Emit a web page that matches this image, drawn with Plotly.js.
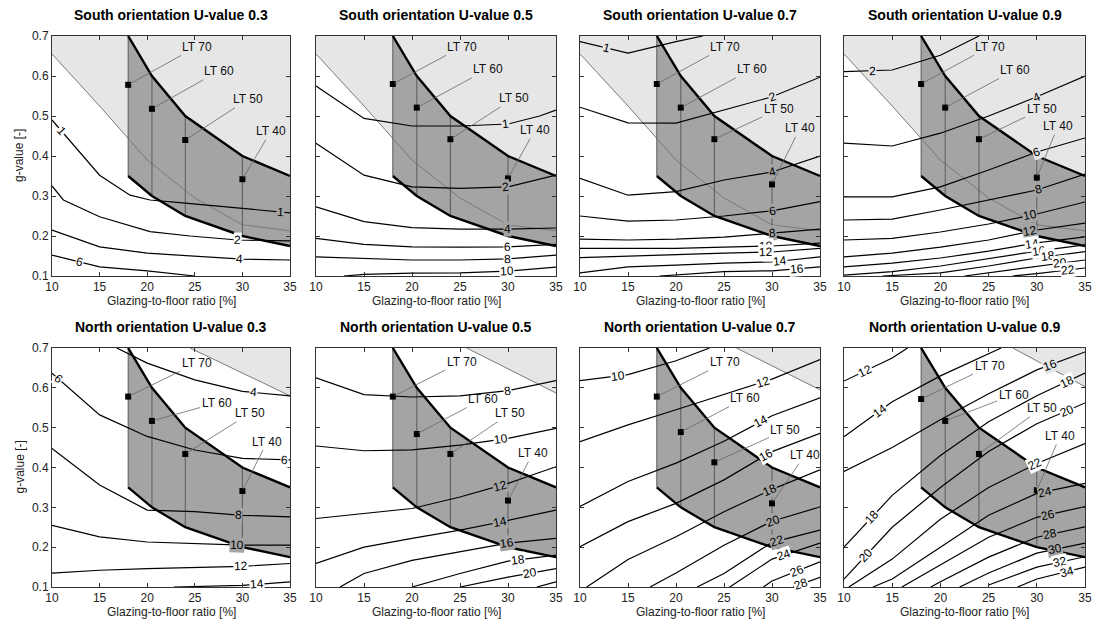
<!DOCTYPE html>
<html><head><meta charset="utf-8">
<script src="https://cdn.plot.ly/plotly-3.0.1.min.js"></script>
<style>html,body{margin:0;padding:0;background:#fff}#chart{width:1093px;height:623px}</style>
</head><body><div id="chart"></div>
<script>
// ---------------- DATA ----------------
const panelTitles = [
  'South orientation U-value 0.3','South orientation U-value 0.5','South orientation U-value 0.7','South orientation U-value 0.9',
  'North orientation U-value 0.3','North orientation U-value 0.5','North orientation U-value 0.7','North orientation U-value 0.9'];
const xTicks = [10,15,20,25,30,35];
const yTicks = [0.1,0.2,0.3,0.4,0.5,0.6,0.7];
const xTitle = 'Glazing-to-floor ratio [%]';
const yTitle = 'g-value [-]';

// feasible (dark) region: glazing-to-floor ratio and g-value bounds
const feasibleX = [18, 20.5, 24, 30, 35];
const feasibleUpper = [0.7, 0.6, 0.5, 0.4, 0.35];
const feasibleLower = [0.35, 0.3, 0.25, 0.2, 0.175];

// light-transmittance levels (markers)
const ltNames = ['LT 70','LT 60','LT 50','LT 40'];
const ltGFR = [18, 20.5, 24, 30];
const ltG = [
  [0.578,0.518,0.44,0.342],[0.58,0.521,0.442,0.344],[0.58,0.521,0.442,0.329],[0.58,0.521,0.442,0.346],
  [0.578,0.517,0.434,0.341],[0.578,0.484,0.434,0.317],[0.578,0.489,0.413,0.31],[0.572,0.517,0.434,0.343]];

// light-grey limit (south panels share one curve; north panels: straight line)
const southLimitX = [10,15,20,25,30,35];
const southLimitY = [0.655,0.525,0.39,0.295,0.228,0.213];
const northLimitX = [[24.5,35],[25.7,35],[26.3,35],[27.5,35]];
const northLimitY = [[0.7,0.58],[0.7,0.587],[0.7,0.595],[0.7,0.603]];

// contour lines: [level, gfr values, g values]
const G6 = [10,15,20,25,30,35];
const contS03 = [
  [1,[10,15,18.2,20.3,24,30.8,35],[0.49,0.352,0.302,0.29,0.282,0.267,0.258]],
  [2,[10,11.2,15,20.3,24.5,29.5,35],[0.325,0.29,0.248,0.211,0.2,0.19,0.188]],
  [4,G6,[0.215,0.173,0.157,0.149,0.142,0.14]],
  [6,[10,15,20,25],[0.152,0.123,0.113,0.1]]];
const contS05 = [
  [1,[10,15,20,25,30,33.3,35],[0.575,0.494,0.475,0.475,0.48,0.5,0.515]],
  [2,G6,[0.432,0.352,0.323,0.319,0.323,0.352]],
  [4,G6,[0.273,0.236,0.221,0.217,0.217,0.22]],
  [6,G6,[0.194,0.179,0.173,0.172,0.173,0.179]],
  [8,G6,[0.148,0.144,0.14,0.14,0.143,0.152]],
  [10,[12.9,15,20,25,30,35],[0.1,0.104,0.107,0.108,0.112,0.122]]];
const contS07 = [
  [1,[10,15,20,22.8],[0.686,0.657,0.686,0.7]],
  [2,G6,[0.522,0.483,0.482,0.515,0.548,0.597]],
  [4,G6,[0.344,0.302,0.311,0.34,0.36,0.4]],
  [6,G6,[0.25,0.237,0.24,0.25,0.263,0.286]],
  [8,G6,[0.192,0.19,0.192,0.197,0.207,0.217]],
  [10,G6,[0.169,0.169,0.169,0.172,0.175,0.182]],
  [12,G6,[0.146,0.15,0.153,0.157,0.16,0.169]],
  [14,G6,[0.108,0.123,0.127,0.132,0.135,0.148]],
  [16,[18.3,25,30,35],[0.1,0.111,0.113,0.123]]];
const contS09 = [
  [2,[10,15,20,24],[0.611,0.615,0.652,0.7]],
  [4,G6,[0.432,0.425,0.457,0.5,0.548,0.6]],
  [6,G6,[0.298,0.298,0.323,0.365,0.41,0.445]],
  [8,G6,[0.24,0.242,0.265,0.29,0.315,0.355]],
  [10,G6,[0.19,0.194,0.21,0.23,0.255,0.285]],
  [12,G6,[0.148,0.157,0.172,0.19,0.215,0.232]],
  [14,G6,[0.123,0.132,0.145,0.162,0.183,0.198]],
  [16,G6,[0.102,0.111,0.125,0.143,0.162,0.178]],
  [18,[14,20,25,30,35],[0.1,0.108,0.125,0.145,0.161]],
  [20,[22.5,25,30,35],[0.1,0.108,0.125,0.14]],
  [22,[27.5,30,35],[0.1,0.106,0.12]]];
const contN03 = [
  [4,[16.8,20,25,30,35],[0.7,0.662,0.62,0.591,0.58]],
  [6,G6,[0.637,0.532,0.478,0.444,0.423,0.419]],
  [8,G6,[0.448,0.356,0.293,0.289,0.28,0.276]],
  [10,G6,[0.255,0.226,0.213,0.209,0.205,0.205]],
  [12,G6,[0.135,0.142,0.146,0.149,0.152,0.159]],
  [14,[22.8,30,35],[0.1,0.104,0.113]]];
const contN05 = [
  [8,G6,[0.625,0.583,0.577,0.58,0.593,0.618]],
  [10,G6,[0.454,0.442,0.444,0.456,0.473,0.498]],
  [12,G6,[0.272,0.285,0.297,0.326,0.36,0.402]],
  [14,G6,[0.159,0.2,0.222,0.243,0.267,0.293]],
  [16,[12.5,15,20,25,30,35],[0.1,0.134,0.167,0.188,0.21,0.222]],
  [18,[20,25,30,35],[0.1,0.134,0.165,0.18]],
  [20,[25,30,35],[0.1,0.125,0.146]],
  [22,[33,35],[0.1,0.113]]];
const contN07 = [
  [10,[10,15,20,23.5],[0.618,0.633,0.668,0.7]],
  [12,G6,[0.465,0.507,0.545,0.583,0.622,0.671]],
  [14,G6,[0.302,0.365,0.411,0.466,0.53,0.575]],
  [16,G6,[0.201,0.264,0.31,0.369,0.44,0.486]],
  [18,[10.7,15,20,25,30,35],[0.1,0.169,0.226,0.289,0.345,0.394]],
  [20,[17.3,20,25,30,35],[0.1,0.135,0.205,0.265,0.301]],
  [22,[22.2,25,30,35],[0.1,0.134,0.212,0.243]],
  [24,[25.6,30,35],[0.1,0.17,0.21]],
  [26,[29.1,30,35],[0.1,0.115,0.163]],
  [28,[32.2,35],[0.1,0.124]]];
const contN09 = [
  [12,[10,15,16.6],[0.617,0.675,0.7]],
  [14,[10,15,20,25,26.3],[0.477,0.565,0.63,0.685,0.7]],
  [16,G6,[0.39,0.45,0.52,0.585,0.645,0.69]],
  [18,G6,[0.2,0.33,0.43,0.515,0.58,0.637]],
  [20,G6,[0.12,0.25,0.35,0.44,0.51,0.562]],
  [22,[10.5,15,20,25,30,35],[0.1,0.17,0.27,0.35,0.41,0.46]],
  [24,[13,15,20,25,30,35],[0.1,0.12,0.2,0.28,0.335,0.36]],
  [26,[16,20,25,30,35],[0.1,0.155,0.225,0.275,0.302]],
  [28,[19,20,25,30,35],[0.1,0.113,0.175,0.225,0.251]],
  [30,[22,25,30,35],[0.1,0.135,0.185,0.21]],
  [32,[25,30,35],[0.105,0.15,0.176]],
  [34,[28,30,35],[0.1,0.12,0.15]]];
const contours = [contS03,contS05,contS07,contS09,contN03,contN05,contN07,contN09];

// ---------------- PLACEMENT (labels) ----------------
const labelAt = [
  [[1,11],[1,34],[2,29.5],[4,29.7],[6,12.9]],
  [[1,29.7],[2,29.7],[4,29.9],[6,29.9],[8,29.9],[10,29.9]],
  [[1,12.8],[2,30],[4,30],[6,30],[8,30],[10,29.4],[12,29.4],[14,30.8],[16,32.6]],
  [[2,13],[4,30],[6,30],[8,30.2],[10,29.3],[12,29.3],[14,29.5],[16,30.2],[18,31.2],[20,32.4],[22,33.2]],
  [[4,31.2],[6,10.7],[6,34.4],[8,29.6],[10,29.4],[12,29.8],[14,31.5]],
  [[8,29.9],[10,29.3],[12,29.2],[14,29.2],[16,29.9],[18,31],[20,32.3]],
  [[10,14],[12,29.1],[14,28.9],[16,29.4],[18,29.8],[20,30.1],[22,30.5],[24,31.2],[26,32.6],[28,33]],
  [[12,12.2],[14,13.7],[16,31.4],[18,33.1],[18,12.9],[20,33.1],[20,12.3],[22,29.8],[24,30.9],[26,31.2],[28,31.4],[30,31.9],[32,32.4],[34,33.1]]];
const ltTextAt = [
  [[25.2,0.673],[27.5,0.612],[30.6,0.542],[33,0.462]],
  [[25.2,0.673],[27.9,0.617],[30.6,0.544],[32.8,0.465]],
  [[25.1,0.673],[27.9,0.617],[30.7,0.517],[32.9,0.469]],
  [[25.1,0.673],[27.7,0.615],[30.5,0.517],[32.2,0.475]],
  [[25.2,0.662],[27.3,0.562],[30.8,0.536],[32.6,0.465]],
  [[25.2,0.666],[27.4,0.572],[30.2,0.536],[32.6,0.436]],
  [[25.1,0.664],[27.2,0.574],[31.4,0.494],[33.4,0.431]],
  [[25.1,0.654],[27.6,0.583],[30.5,0.549],[32.4,0.479]]];

// ---------------- RENDER ----------------
const W = 1093, H = 623;
const colPx = [[52,290],[316,556],[580,820],[844,1085]];
const rowPx = [[36,276],[348,587]];
const DARK = '#a4a4a4', LIGHT = '#e6e6e6';
const FONT = 'Liberation Sans, Arial, Helvetica, sans-serif';

function interp(xs, ys, x){
  if (x <= xs[0]) return ys[0];
  for (let i = 1; i < xs.length; i++) {
    if (x <= xs[i]) { const t = (x - xs[i-1])/(xs[i]-xs[i-1]); return ys[i-1] + t*(ys[i]-ys[i-1]); }
  }
  return ys[ys.length-1];
}

const traces = [], annotations = [], layout = {
  width: W, height: H, margin:{l:0,r:0,t:0,b:0}, showlegend:false,
  paper_bgcolor:'#fff', plot_bgcolor:'#fff', font:{family:FONT, size:12, color:'#222'}
};

for (let p = 0; p < 8; p++) {
  const col = p % 4, row = Math.floor(p/4);
  const n = p === 0 ? '' : String(p+1);
  const xa = 'x'+n, ya = 'y'+n;
  const [c0,c1] = colPx[col], [r0,r1] = rowPx[row];
  const pxX = (c1-c0)/25, pxY = (r1-r0)/0.6;
  layout['xaxis'+n] = {domain:[c0/W, c1/W], range:[10,35], anchor:ya, tickvals:xTicks, ticks:'inside', ticklen:4,
    tickcolor:'#333', showline:true, mirror:'ticks', linecolor:'#333', linewidth:1, showgrid:false, zeroline:false,
    tickfont:{size:12, color:'#222'}, fixedrange:true};
  layout['yaxis'+n] = {domain:[1-r1/H, 1-r0/H], range:[0.1,0.7], anchor:xa, tickvals:yTicks, ticktext:yTicks.map(v=>v.toFixed(1)),
    ticks:'inside', ticklen:4, tickcolor:'#333', showline:true, mirror:'ticks', linecolor:'#333', linewidth:1, showgrid:false,
    zeroline:false, showticklabels: col===0, tickfont:{size:12, color:'#222'}, fixedrange:true};

  const south = row === 0;
  let limX, limY;
  if (south) { limX = southLimitX; limY = southLimitY; }
  else { limX = northLimitX[col]; limY = northLimitY[col]; }
  const lx = limX.concat([35, limX[0]]), ly = limY.concat([0.7, 0.7]);
  traces.push({x:lx, y:ly, xaxis:xa, yaxis:ya, mode:'lines', fill:'toself', fillcolor:LIGHT, line:{width:0}, hoverinfo:'skip'});
  const fx = feasibleX.concat(feasibleX.slice().reverse(), [feasibleX[0]]);
  const fy = feasibleUpper.concat(feasibleLower.slice().reverse(), [feasibleUpper[0]]);
  traces.push({x:fx, y:fy, xaxis:xa, yaxis:ya, mode:'lines', fill:'toself', fillcolor:DARK, line:{width:0}, hoverinfo:'skip'});
  traces.push({x:limX, y:limY, xaxis:xa, yaxis:ya, mode:'lines', line:{color:'#7a7a7a', width:1}, hoverinfo:'skip'});
  const vx = [], vy = [];
  ltGFR.forEach(g => { vx.push(g, g, null); vy.push(interp(feasibleX, feasibleLower, g), interp(feasibleX, feasibleUpper, g), null); });
  traces.push({x:vx, y:vy, xaxis:xa, yaxis:ya, mode:'lines', line:{color:'#5a5a5a', width:1}, hoverinfo:'skip'});
  const cx = [], cy = [];
  contours[p].forEach(c => { cx.push(...c[1], null); cy.push(...c[2], null); });
  traces.push({x:cx, y:cy, xaxis:xa, yaxis:ya, mode:'lines', line:{color:'#000', width:1.2}, hoverinfo:'skip'});
  traces.push({x:feasibleX.concat([null], feasibleX), y:feasibleUpper.concat([null], feasibleLower), xaxis:xa, yaxis:ya,
    mode:'lines', line:{color:'#000', width:2.4}, hoverinfo:'skip'});
  traces.push({x:ltGFR, y:ltG[p], xaxis:xa, yaxis:ya, mode:'markers', marker:{symbol:'square', size:6, color:'#000'}, hoverinfo:'skip'});

  labelAt[p].forEach(([lev, lxv]) => {
    const c = contours[p].find(cc => cc[0] === lev);
    const yv = interp(c[1], c[2], lxv);
    const d = 0.8;
    const x1 = Math.max(c[1][0], lxv-d), x2 = Math.min(c[1][c[1].length-1], lxv+d);
    const y1 = interp(c[1], c[2], x1), y2 = interp(c[1], c[2], x2);
    const ang = -Math.atan2((y2-y1)*pxY, (x2-x1)*pxX)*180/Math.PI;
    let bg = '#ffffff';
    const inFeas = lxv >= feasibleX[0] && yv <= interp(feasibleX, feasibleUpper, lxv) && yv >= interp(feasibleX, feasibleLower, lxv);
    if (inFeas) bg = DARK;
    else if (lxv >= limX[0] && yv > interp(limX, limY, lxv)) bg = LIGHT;
    annotations.push({x:lxv, y:yv, xref:xa, yref:ya, text:String(lev), showarrow:false, textangle:ang,
      font:{size:12, color:'#000'}, bgcolor:bg, borderpad:0, xanchor:'center', yanchor:'middle'});
  });
  ltNames.forEach((nm, k) => {
    annotations.push({x:ltGFR[k], y:ltG[p][k], xref:xa, yref:ya, ax:ltTextAt[p][k][0], ay:ltTextAt[p][k][1], axref:xa, ayref:ya,
      text:nm, showarrow:true, arrowhead:0, arrowwidth:0.8, arrowcolor:'#666', standoff:2, font:{size:12, color:'#111'}});
  });
  annotations.push({x:(c0+c1)/2/W, y:1-(r0-21)/H, xref:'paper', yref:'paper', text:'<b>'+panelTitles[p]+'</b>', showarrow:false,
    font:{size:14, color:'#000'}, xanchor:'center', yanchor:'middle'});
  annotations.push({x:(c0+c1)/2/W, y:1-(r1+25)/H, xref:'paper', yref:'paper', text:xTitle, showarrow:false,
    font:{size:12, color:'#222'}, xanchor:'center', yanchor:'middle'});
  if (col === 0) {
    annotations.push({x:19/W, y:1-(r0+r1)/2/H, xref:'paper', yref:'paper', text:yTitle, showarrow:false, textangle:-90,
      font:{size:12, color:'#222'}, xanchor:'center', yanchor:'middle'});
  }
}
layout.annotations = annotations;
Plotly.newPlot('chart', traces, layout, {staticPlot:true, displayModeBar:false});
</script></body></html>
